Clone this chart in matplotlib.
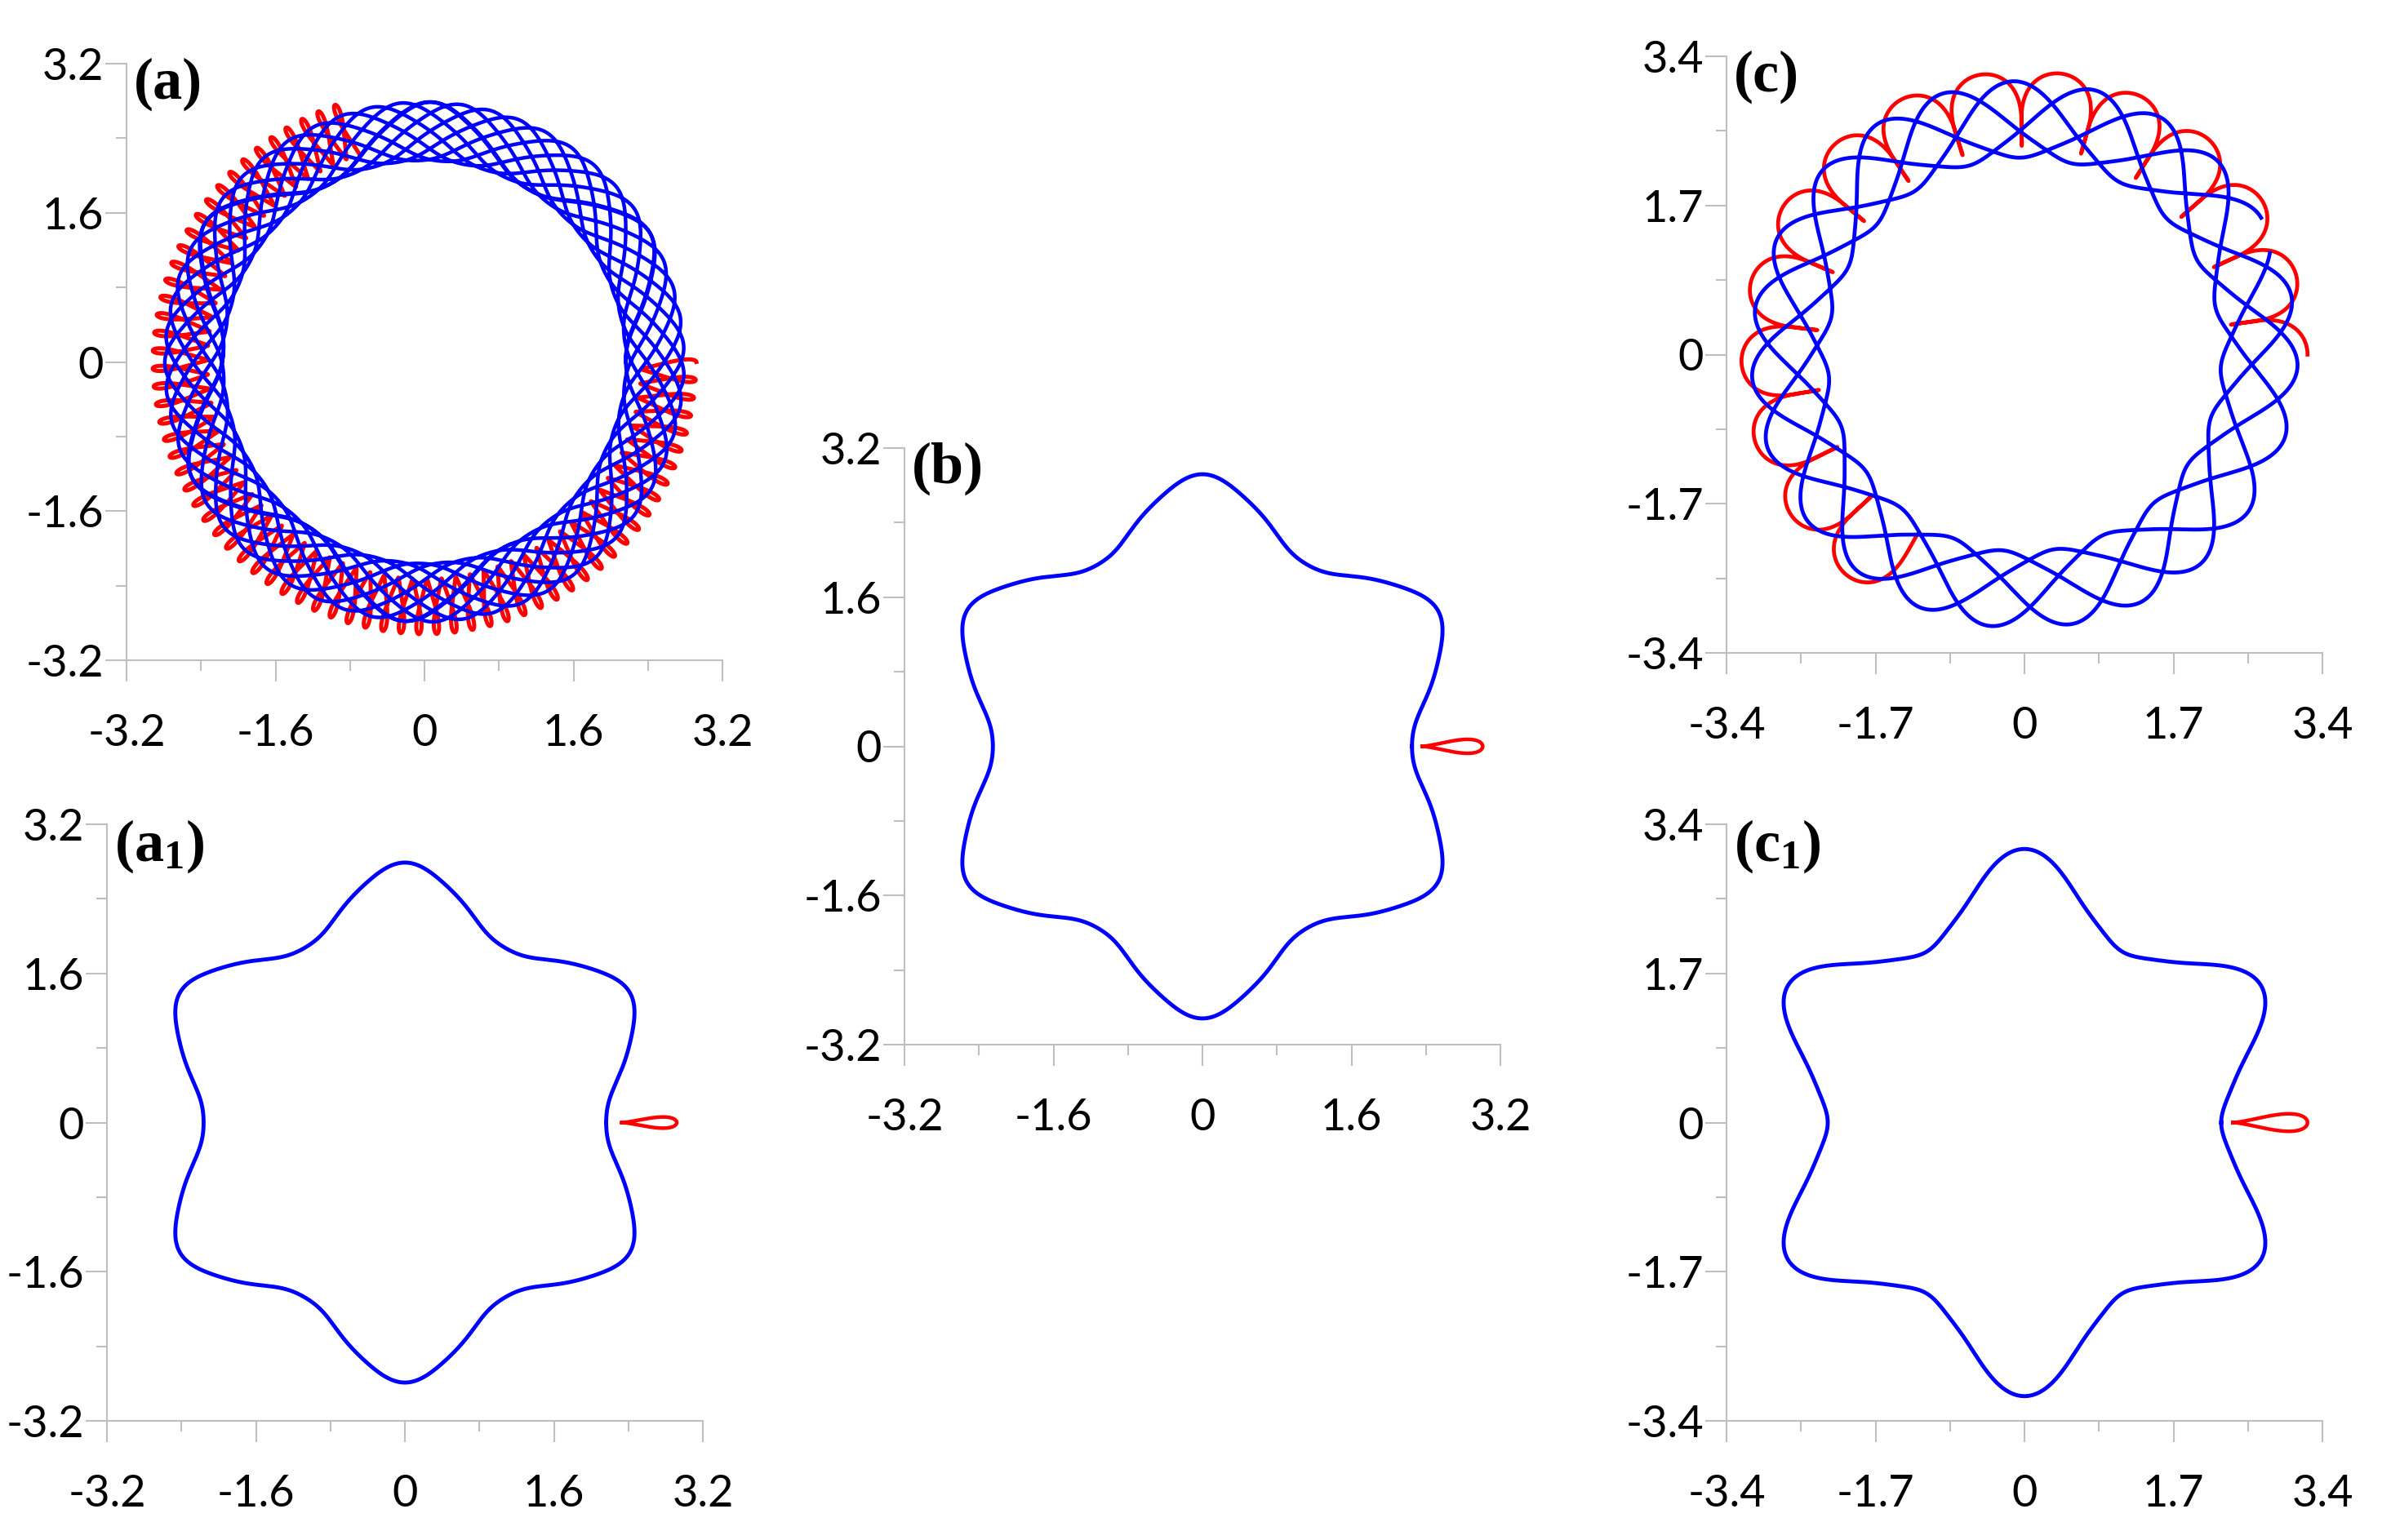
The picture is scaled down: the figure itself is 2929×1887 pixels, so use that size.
import numpy as np
import matplotlib.pyplot as plt

plt.rcParams['font.family'] = ['Lato', 'DejaVu Sans']
plt.rcParams['mathtext.fontset'] = 'custom'
plt.rcParams['mathtext.rm'] = 'Liberation Serif'
plt.rcParams['mathtext.bf'] = 'Liberation Serif:bold'

# star-shaped orbit in the rotating frame: radius read every 2.5 deg,
# going from a tip (offset 0) to the next dent (offset 30)
star_offset = [0, 2.5, 5, 7.5, 10, 12.5, 15, 17.5, 20, 22.5, 25, 27.5, 30]
star_r_a1 = [2.79, 2.77, 2.72, 2.65, 2.58, 2.51, 2.43, 2.36, 2.29, 2.23, 2.19, 2.17, 2.16]
star_r_b = [2.92, 2.90, 2.84, 2.77, 2.70, 2.62, 2.54, 2.47, 2.39, 2.33, 2.28, 2.26, 2.25]
star_r_c1 = [3.13, 3.09, 3.01, 2.92, 2.81, 2.68, 2.57, 2.48, 2.41, 2.35, 2.30, 2.26, 2.24]

# small red loop in the rotating frame: pointed end, round end, half width
loop_a1 = [2.33, 2.92, 0.06]
loop_b = [2.36, 3.01, 0.075]
loop_c1 = [2.38, 3.23, 0.10]

# same orbits seen in the fixed frame (a), (c):
# laps / loops drawn, frame turn per lap (deg, + = counter-clockwise),
# and how unevenly the loop is run (0 = even speed)
blue_laps_a, blue_turn_a = 10, -6.5
red_loops_a, red_turn_a, red_ecc_a = 67, -3.8, 0.2
blue_laps_c, blue_turn_c, blue_start_c = 3.82, 15.0, 30
red_loops_c, red_turn_c, red_ecc_c = 15, 16.5, 0.9

ticks_ab = [-3.2, -1.6, 0, 1.6, 3.2]
ticks_c = [-3.4, -1.7, 0, 1.7, 3.4]

BLUE = '#0000FF'
RED = '#FF0000'
GRAY = '#BFBFBF'


def star_radius(r_half, phi):
    # smooth six-fold cosine fit through the read radii
    k = 6 * np.arange(5)
    basis = np.cos(np.outer(np.radians(star_offset), k))
    coef = np.linalg.lstsq(basis, np.array(r_half), rcond=None)[0]
    return np.cos(np.outer(np.radians(phi - 30), k)) @ coef


def star_xy(r_half, laps=1, turn=0.0, start=0.0):
    phi = np.linspace(start, start + 360 * laps, int(3000 * laps))
    r = star_radius(r_half, phi)
    psi = np.radians(phi + turn * (phi - start) / 360)
    return r * np.cos(psi), r * np.sin(psi)


def loop_xy(loop, n=1, turn=0.0, ecc=0.8, start=0.0):
    xp, xr, hw = loop
    E = np.linspace(2 * np.pi * start, 2 * np.pi * n, int(600 * n))
    x = xp + (xr - xp) * (1 - np.cos(E)) / 2
    y = -hw / 0.6495 * np.sin(E) * (1 - np.cos(E)) / 2
    M = E - ecc * np.sin(E)
    ang = np.radians(turn * (M - 2 * np.pi * start) / (2 * np.pi))
    return x * np.cos(ang) - y * np.sin(ang), x * np.sin(ang) + y * np.cos(ang)


def style(ax, ticks, label):
    lim = ticks[-1]
    ax.set_xlim(-lim, lim)
    ax.set_ylim(-lim, lim)
    minor = [(a + b) / 2 for a, b in zip(ticks[:-1], ticks[1:])]
    for axis in (ax.xaxis, ax.yaxis):
        axis.set_ticks(ticks)
        axis.set_ticks(minor, minor=True)
        axis.set_ticklabels([f'{t:g}' for t in ticks])
    for s in ('top', 'right'):
        ax.spines[s].set_visible(False)
    for s in ('left', 'bottom'):
        ax.spines[s].set_color(GRAY)
        ax.spines[s].set_linewidth(1.5)
    ax.tick_params(which='major', direction='out', length=19, width=1.5,
                   color=GRAY, labelsize=39, labelcolor='black')
    ax.tick_params(which='minor', direction='out', length=9.5, width=1.5, color=GRAY)
    ax.tick_params(axis='x', which='major', pad=28)
    ax.tick_params(axis='y', which='major', pad=1)
    ax.text(0.012, 1.01, label, transform=ax.transAxes, ha='left', va='top',
            fontsize=52, family='Liberation Serif', weight='bold')


W, H = 2929, 1887
fig = plt.figure(figsize=(W / 100, H / 100), dpi=100)


def panel(left, bottom):
    return fig.add_axes([left / W, 1 - bottom / H, 730 / W, 731 / H])


# (a) fixed frame
ax = panel(155, 809)
x, y = loop_xy(loop_a1, red_loops_a, red_turn_a, red_ecc_a, start=0.5)
ax.plot(x, y, color=RED, lw=3.6, clip_on=False)
x, y = star_xy(star_r_a1, blue_laps_a, blue_turn_a)
ax.plot(x, y, color=BLUE, lw=3.2, clip_on=False)
style(ax, ticks_ab, '(a)')

# (a1) rotating frame
ax = panel(131, 1741)
x, y = star_xy(star_r_a1)
ax.plot(x, y, color=BLUE, lw=3.5)
x, y = loop_xy(loop_a1)
ax.plot(x, y, color=RED, lw=3.2)
style(ax, ticks_ab, r'$\mathbf{(a_1)}$')

# (b)
ax = panel(1108, 1280)
x, y = star_xy(star_r_b)
ax.plot(x, y, color=BLUE, lw=3.5)
x, y = loop_xy(loop_b)
ax.plot(x, y, color=RED, lw=3.2)
style(ax, ticks_ab, '(b)')

# (c) fixed frame
ax = panel(2115, 800)
x, y = loop_xy(loop_c1, red_loops_c, red_turn_c, red_ecc_c, start=0.5)
ax.plot(x, y, color=RED, lw=3.4, clip_on=False)
x, y = star_xy(star_r_c1, blue_laps_c, blue_turn_c, start=blue_start_c)
ax.plot(x, y, color=BLUE, lw=3.4, clip_on=False)
style(ax, ticks_c, '(c)')

# (c1) rotating frame
ax = panel(2115, 1741)
x, y = star_xy(star_r_c1)
ax.plot(x, y, color=BLUE, lw=3.5)
x, y = loop_xy(loop_c1)
ax.plot(x, y, color=RED, lw=3.2)
style(ax, ticks_c, r'$\mathbf{(c_1)}$')

fig.savefig('out.png', dpi=100)
